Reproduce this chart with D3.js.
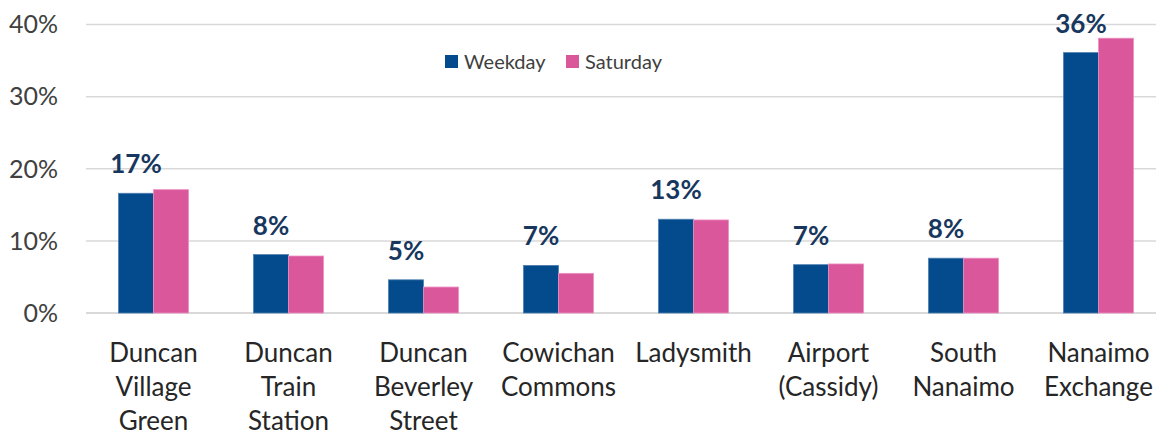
<!DOCTYPE html>
<html>
  <head>
    <meta charset="UTF-8" />
    <style>
      body { margin: 0; background: #fff; }
      text { font-family: Lato, 'Open Sans', sans-serif; }
    </style>
  </head>
  <body>
    <svg></svg>

    <script src="https://d3js.org/d3.v7.min.js"></script>
    <script>
      let width = 1156,
        height = 435

      // data
      let categories = [
        'Duncan Village Green',
        'Duncan Train Station',
        'Duncan Beverley Street',
        'Cowichan Commons',
        'Ladysmith',
        'Airport (Cassidy)',
        'South Nanaimo',
        'Nanaimo Exchange',
      ]
      let labelLines = [
        ['Duncan', 'Village', 'Green'],
        ['Duncan', 'Train', 'Station'],
        ['Duncan', 'Beverley', 'Street'],
        ['Cowichan', 'Commons'],
        ['Ladysmith'],
        ['Airport', '(Cassidy)'],
        ['South', 'Nanaimo'],
        ['Nanaimo', 'Exchange'],
      ]
      let weekday = [16.6, 8.1, 4.6, 6.6, 13.0, 6.7, 7.6, 36.1]
      let saturday = [17.1, 7.9, 3.6, 5.5, 12.9, 6.8, 7.6, 38.1]
      let series = ['Weekday', 'Saturday']
      let yTicks = [0, 10, 20, 30, 40]

      let colors = { Weekday: '#034b8c', Saturday: '#db579c' }

      let svg = d3.select('svg').attr('width', width).attr('height', height)

      let x = d3.scaleBand().domain(categories).range([86, 1166]).paddingInner(0).paddingOuter(0)
      let xInner = d3.scaleBand().domain(series).range([0, x.bandwidth()]).paddingInner(0).paddingOuter(0.93)
      let y = d3.scaleLinear().domain([0, 40]).range([313, 24.5])

      // gridlines
      svg
        .append('g')
        .selectAll('line')
        .data(yTicks)
        .enter()
        .append('line')
        .attr('x1', 86)
        .attr('x2', width)
        .attr('y1', (d) => y(d))
        .attr('y2', (d) => y(d))
        .attr('stroke', '#d9d9d9')
        .attr('stroke-width', (d) => (d == 0 ? 2 : 1.5))

      // y tick labels
      svg
        .append('g')
        .selectAll('text')
        .data(yTicks)
        .enter()
        .append('text')
        .attr('x', 58)
        .attr('y', (d) => y(d))
        .attr('dy', '0.35em')
        .attr('text-anchor', 'end')
        .attr('fill', '#404040')
        .style('font-size', '25px')
        .text((d) => d + '%')

      let rows = categories.map((c, i) => ({ cat: c, Weekday: weekday[i], Saturday: saturday[i] }))

      let groups = svg
        .append('g')
        .selectAll('g')
        .data(rows)
        .enter()
        .append('g')
        .attr('transform', (d) => 'translate(' + x(d.cat) + ',0)')

      groups
        .selectAll('rect')
        .data((d) => series.map((s) => ({ key: s, value: d[s] })))
        .enter()
        .append('rect')
        .attr('x', (d) => xInner(d.key))
        .attr('width', xInner.bandwidth())
        .attr('y', (d) => y(d.value))
        .attr('height', (d) => y(0) - y(d.value))
        .attr('fill', (d) => colors[d.key])
        .attr('stroke', (d) => (d.key == 'Weekday' ? '#4f7fb0' : '#ec8fc0'))
        .attr('stroke-width', 0.8)

      // value labels over the weekday bar
      groups
        .append('text')
        .attr('x', xInner('Weekday') + xInner.bandwidth() / 2)
        .attr('y', (d) => y(d.Weekday) - 20)
        .attr('text-anchor', 'middle')
        .attr('fill', '#17375e')
        .style('font-size', '26px')
        .style('font-weight', 'bold')
        .text((d) => Math.round(d.Weekday) + '%')

      // category labels
      svg
        .append('g')
        .selectAll('text')
        .data(categories)
        .enter()
        .append('text')
        .attr('x', (d) => x(d) + x.bandwidth() / 2)
        .attr('y', 362)
        .attr('text-anchor', 'middle')
        .attr('fill', '#262626')
        .style('font-size', '26px')
        .each(function (d, i) {
          d3.select(this)
            .selectAll('tspan')
            .data(labelLines[i])
            .enter()
            .append('tspan')
            .attr('x', x(d) + x.bandwidth() / 2)
            .attr('dy', (l, j) => (j == 0 ? 0 : 34))
            .text((l) => l)
        })

      // legend
      let legend = svg
        .append('g')
        .selectAll('g')
        .data(series)
        .enter()
        .append('g')
        .attr('transform', (d, i) => 'translate(' + (445 + i * 121) + ',55)')
      legend.append('rect').attr('width', 13).attr('height', 13).attr('fill', (d) => colors[d])
      legend
        .append('text')
        .attr('x', 19)
        .attr('y', 7)
        .attr('dy', '0.35em')
        .attr('fill', '#404040')
        .style('font-size', '20px')
        .text((d) => d)
    </script>
  </body>
</html>
